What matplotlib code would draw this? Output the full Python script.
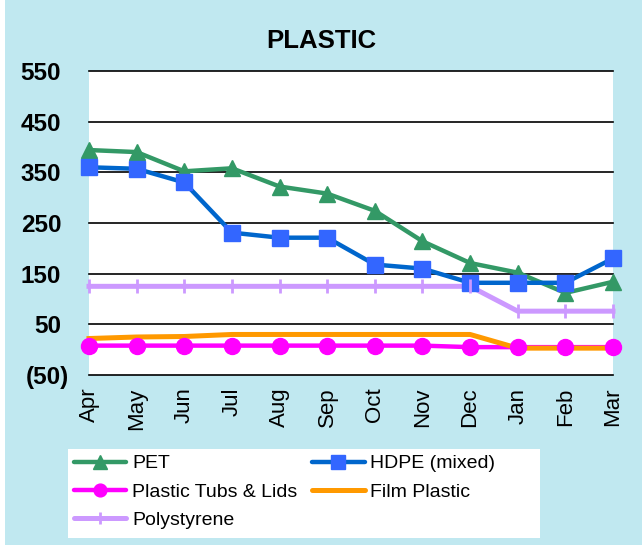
import matplotlib
matplotlib.use("Agg")
import matplotlib.pyplot as plt
from matplotlib.lines import Line2D
from matplotlib.patches import Rectangle
from matplotlib.transforms import ScaledTranslation

plt.rcParams['font.family'] = ['Liberation Sans', 'DejaVu Sans']

months = ["Apr", "May", "Jun", "Jul", "Aug", "Sep", "Oct", "Nov", "Dec", "Jan", "Feb", "Mar"]
pet = [394, 390, 352, 358, 322, 308, 274, 214, 171, 152, 112, 134]
hdpe = [360, 357, 330, 231, 221, 221, 168, 160, 132, 132, 132, 180]
tubs = [8, 8, 8, 8, 8, 8, 8, 8, 5, 5, 5, 5]
film = [22, 25, 26, 30, 30, 30, 30, 30, 30, 3, 3, 3]
poly = [125, 125, 125, 125, 125, 125, 125, 125, 125, 76, 76, 76]
yticks = [-50, 50, 150, 250, 350, 450, 550]

bg = '#C0E8F0'
fig = plt.figure(figsize=(6.42, 5.45), dpi=100, facecolor=bg)
fig.patches.append(Rectangle((0, 0), 5/642, 1, transform=fig.transFigure,
                             facecolor='white', edgecolor='none', zorder=0))
ax = fig.add_axes([89/642, 1-375/545, (613-89)/642, (375-71)/545])
ax.set_facecolor('white')
for s in ax.spines.values():
    s.set_visible(False)

x = list(range(len(months)))
ax.set_xlim(0, len(months)-1)
ax.set_ylim(-50, 550)
for v in yticks:
    ax.axhline(v, color='black', lw=1.2, zorder=1, clip_on=False)

series = [
    ("PET", pet, '#339966', '#339966', '^', 12, 3.2),
    ("HDPE (mixed)", hdpe, '#0066CC', '#3366FF', 's', 12, 3.2),
    ("Plastic Tubs & Lids", tubs, '#FF00FF', '#FF00FF', 'o', 11.5, 3.2),
    ("Film Plastic", film, '#FF9900', '#FF9900', None, 0, 3.6),
    ("Polystyrene", poly, '#CC99FF', '#CC99FF', '|', 10, 3.6),
]
handles = []
for i, (name, vals, lc, mc, mk, ms, lw) in enumerate(series):
    ax.plot(x, vals, color=lc, lw=lw, zorder=2 + i*0.01, clip_on=False,
            solid_joinstyle='round')
    if mk:
        ax.plot(x, vals, ls='none', marker=mk, ms=ms, color=mc, mec=mc,
                mew=2 if mk == '|' else 1, zorder=3 + i*0.01, clip_on=False)
    handles.append(Line2D([], [], color=lc, lw=lw, marker=mk, ms=ms*0.8 if mk else 0,
                          mfc=mc, mec=mc, mew=2 if mk == '|' else 1,
                          solid_capstyle='round'))

ax.set_xticks(x)
ax.set_xticklabels(months, rotation=90, fontsize=16, va='top', ha='center')
ax.set_yticks(yticks)
ax.set_yticklabels([f"({-v})" if v < 0 else str(v) for v in yticks],
                   fontsize=17.5, fontweight='bold')
ax.tick_params(axis='both', length=0)
ax.tick_params(axis='x', pad=9)
ax.tick_params(axis='y', pad=20)
# accounting-style: closing parenthesis hangs to the right
neg = ax.get_yticklabels()[0]
neg.set_transform(neg.get_transform() + ScaledTranslation(8/100, 0, fig.dpi_scale_trans))

fig.text(0.5, 1-41/545, "PLASTIC", fontsize=18.5, fontweight='bold',
         ha='center', va='center')

# legend background box
fig.patches.append(Rectangle((68/642, 1-538/545), (540-68)/642, (538-449)/545,
                             transform=fig.transFigure, facecolor='white',
                             edgecolor='none', zorder=1))
order = [0, 2, 4, 1, 3]  # row-major fill for 2 columns
leg = fig.legend(handles=[handles[i] for i in order],
                 labels=[series[i][0] for i in order], ncol=2,
                 loc='upper left', bbox_to_anchor=(68/642, 1-449/545),
                 frameon=False, fontsize=14, handlelength=2.7,
                 handletextpad=0.3, columnspacing=0.75, labelspacing=0.55,
                 borderpad=0.3, borderaxespad=0)
leg.set_zorder(2)

fig.savefig("out.png", dpi=100, facecolor=bg)
